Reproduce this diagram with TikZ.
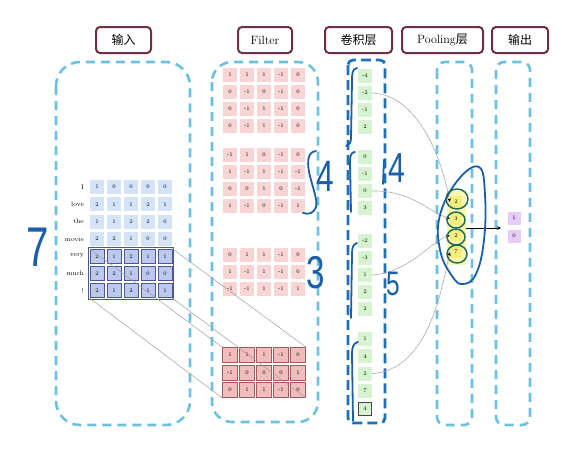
\documentclass[tikz,border=0pt]{standalone}
\usepackage{fontspec}
\newfontfamily\cjk{Noto Sans CJK SC}
\newfontfamily\handfont{Liberation Sans}
\usetikzlibrary{arrows.meta}
\definecolor{headline}{HTML}{6E2F3F}
\definecolor{dashblue}{HTML}{6CC0E2}
\definecolor{convblue}{HTML}{1E70B8}
\definecolor{inblue}{HTML}{D5E3F8}
\definecolor{inwin}{HTML}{BCC8EE}
\definecolor{inedge}{HTML}{4B5896}
\definecolor{fpink}{HTML}{F9D4D4}
\definecolor{fwin}{HTML}{F1BCBC}
\definecolor{fedge}{HTML}{A55858}
\definecolor{cgreen}{HTML}{D6F3D0}
\definecolor{pyellow}{HTML}{F4EE7E}
\definecolor{glow}{HTML}{FAF7B0}
\definecolor{olilac}{HTML}{E6CBF6}
\definecolor{ink}{HTML}{1B5FA8}
\definecolor{inkgreen}{HTML}{216B57}

\tikzset{
  head/.style={draw=headline, line width=2pt, rounded corners=4pt, fill=white,
    minimum height=26pt, inner sep=0pt, font=\fontsize{12}{14}\selectfont},
  frame/.style={draw=dashblue, line width=2.6pt, dash pattern=on 9pt off 6pt},
  convframe/.style={draw=convblue, line width=2.8pt, dash pattern=on 10pt off 5pt},
  cellnum/.style={minimum size=14pt, inner sep=0pt, font=\fontsize{5.5}{6}\selectfont},
  incell/.style={cellnum, fill=inblue},
  inhit/.style={cellnum, fill=inwin, draw=inedge, line width=0.8pt},
  fcell/.style={cellnum, fill=fpink},
  fhit/.style={cellnum, minimum size=15pt, fill=fwin, draw=fedge, line width=0.8pt},
  ccell/.style={cellnum, fill=cgreen},
  pcell/.style={cellnum, minimum size=12pt, fill=pyellow},
  ocell/.style={cellnum, minimum size=13pt, fill=olilac},
  word/.style={anchor=east, inner sep=0pt, font=\fontsize{6.5}{7}\selectfont},
  link/.style={draw=gray!75, line width=0.5pt},
  feed/.style={draw=gray!65, line width=0.6pt, -{Stealth[black, length=4pt, width=3.5pt]}},
  hand/.style={draw=ink, line width=1.8pt, line cap=round, line join=round},
  handnum/.style={text=ink, inner sep=0pt},
}
\newcommand{\handtext}[2]{{\handfont\fontsize{#1}{#1}\selectfont\scalebox{0.72}[1]{#2}}}

\begin{document}
\begin{tikzpicture}[x=1pt, y=-1pt]
\useasboundingbox[fill=white] (0,0) rectangle (562,450);

% column frames
\draw[frame, rounded corners=24pt] (56,62) rectangle (190,425);
\draw[frame, rounded corners=20pt] (212,62) rectangle (318,422);
\draw[convframe, rounded corners=5pt] (348,60) rectangle (385,423);
\draw[frame, rounded corners=8pt] (437,62) rectangle (472,425);
\draw[frame, rounded corners=8pt] (496,62) rectangle (530,425);

% headers
\node[head, minimum width=55pt] (h-in) at (123.5,40) {\cjk 输入};
\node[head, minimum width=54pt] (h-fil) at (265,40) {Filter};
\node[head, minimum width=67pt] (h-conv) at (358.5,40) {\cjk 卷积层};
\node[head, minimum width=81pt] (h-pool) at (442.5,40) {Pooling{\cjk 层}};
\node[head, minimum width=56pt] (h-out) at (520,40) {\cjk 输出};

% input sentence
\foreach \w/\vals [count=\r] in {I/{1,0,0,0,0}, love/{2,1,1,2,1}, the/{1,1,2,2,0}, movie/{2,2,1,0,0}}{
  \node[word] (w-\r) at (84,{187+17.3*(\r-1)}) {\w};
  \foreach \v [count=\c] in \vals
    \node[incell] (in-\r-\c) at ({80+17*\c},{187+17.3*(\r-1)}) {\v};
}
\foreach \w/\vals [count=\r from 5] in {very/{2,1,2,1,1}, much/{2,2,1,0,0}, !/{2,1,2,1,1}}{
  \node[word] (w-\r) at (84,{187+17.3*(\r-1)}) {\w};
  \foreach \v [count=\c] in \vals
    \node[inhit] (in-\r-\c) at ({80+17*\c},{187+17.3*(\r-1)}) {\v};
}
\draw[inedge, line width=0.9pt] ([xshift=-1.5pt,yshift=1.5pt]in-5-1.north west) rectangle ([xshift=1.5pt,yshift=-1.5pt]in-7-5.south east);

% filters
\foreach \vals [count=\r] in {{1,1,1,-1,0}, {0,-1,0,-1,0}, {0,-1,1,-1,0}, {0,-1,1,-1,0}}
  \foreach \v [count=\c] in \vals
    \node[fcell] (f1-\r-\c) at ({213+17*\c},{75+17*(\r-1)}) {\v};
\foreach \vals [count=\r] in {{-1,1,0,-1,0}, {1,-1,1,-1,-1}, {0,0,1,0,-1}, {1,-1,0,-1,1}}
  \foreach \v [count=\c] in \vals
    \node[fcell] (f2-\r-\c) at ({213+17*\c},{155+17*(\r-1)}) {\v};
\foreach \vals [count=\r] in {{0,1,1,-1,0}, {1,-1,1,-1,0}, {-1,-1,1,-1,1}}
  \foreach \v [count=\c] in \vals
    \node[fcell] (f3-\r-\c) at ({213+17*\c},{255+17*(\r-1)}) {\v};
\foreach \vals [count=\r] in {{1,1,1,-1,0}, {-1,0,0,0,1}, {0,1,1,-1,0}}
  \foreach \v [count=\c] in \vals
    \node[fhit] (f4-\r-\c) at ({213+17*\c},{355+17.5*(\r-1)}) {\v};

% window -> filter
\draw[link] (in-5-1.north west) -- (f4-1-1.north west);
\draw[link] (in-5-5.north east) -- (f4-1-5.north east);
\draw[link] (in-7-1.south west) -- (f4-3-1.south west);
\draw[link] (in-7-5.south east) -- (f4-3-5.south east);

% convolution layer
\foreach \v [count=\i] in {-4,-2,-1,2}
  \node[ccell] (c-1-\i) at (365,{76+17*(\i-1)}) {\v};
\foreach \v [count=\i] in {0,-1,0,3}
  \node[ccell] (c-2-\i) at (365,{157+17*(\i-1)}) {\v};
\foreach \v [count=\i] in {-2,-3,1,2,2}
  \node[ccell] (c-3-\i) at (365,{241+17*(\i-1)}) {\v};
\foreach \v [count=\i] in {1,4,2,7}
  \node[ccell] (c-4-\i) at (365,{339+17.3*(\i-1)}) {\v};
\node[ccell, minimum size=13pt, draw=gray!55!black, line width=0.7pt] (c-4-5) at (365,408.5) {4};

% pooling layer
\node[fill=glow, minimum width=19pt, minimum height=74pt, inner sep=0pt] (pool) at (456,228) {};
\foreach \v [count=\i] in {2,3,2,7}
  \node[pcell] (p-\i) at (456,{202+16.7*(\i-1)}) {\v};

% output
\node[ocell] (o-1) at (514,218) {1};
\node[ocell] (o-2) at (514,236) {0};
\coordinate (o-in) at (501,228);

% conv -> pool -> output
\draw[feed] (c-1-2.east) .. controls (415,95) and (440,150) .. (p-1.west);
\draw[feed] (c-2-3.east) .. controls (410,190) and (430,212) .. (p-2.west);
\draw[feed] (c-3-3.east) .. controls (410,272) and (430,242) .. (p-3.west);
\draw[feed] (c-4-3.east) .. controls (425,370) and (440,300) .. (p-4.west);
\draw[-{Stealth[length=4pt, width=3.5pt]}, line width=0.6pt] (pool.east) -- (o-in);

% handwritten notes
\node[handnum] (n-7) at (38,247) {\handtext{56}{7}};
\draw[hand] (316,151) .. controls (308,152) and (307,160) .. (309,172)
  .. controls (312,186) and (318,200) .. (316,207) .. controls (314,213) and (309,215) .. (303,213);
\node[handnum] (n-f4) at (325,176) {\handtext{44}{4}};
\node[handnum] (n-f3) at (316,273) {\handtext{46}{3}};
\draw[hand] (357,68) .. controls (352,69) and (352,74) .. (352,82) -- (351,138)
  .. controls (351,143) and (349,145) .. (346,146);
\draw[hand] (355,152) .. controls (351,152) and (350,156) .. (350,162) -- (351,212);
\draw[hand] (357,243) .. controls (353,244) and (352,248) .. (352,254) -- (351,318);
\draw[hand] (358,342) .. controls (353,343) and (352,348) .. (352,354) -- (353,421);
\draw[hand] (384,160) -- (383,184);
\node[handnum] (n-c4) at (397,168) {\handtext{42}{4}};
\node[handnum] (n-c5) at (393,284) {\handtext{34}{5}};
\draw[hand] plot[smooth cycle, tension=0.7] coordinates {(479,167) (458,180) (440,215) (440,250) (452,276) (463,284) (476,274) (484,240) (485,195)};
\draw[hand, draw=inkgreen, line width=1.5pt] (457,199) ellipse [x radius=11pt, y radius=10pt];
\draw[hand, draw=inkgreen, line width=1.5pt] (456,220) ellipse [x radius=9pt, y radius=8pt];
\draw[hand, draw=inkgreen, line width=1.5pt] (456,237) ellipse [x radius=9pt, y radius=8pt];
\draw[hand, draw=inkgreen, line width=1.5pt] (457,254) ellipse [x radius=10pt, y radius=9pt];
\end{tikzpicture}
\end{document}
